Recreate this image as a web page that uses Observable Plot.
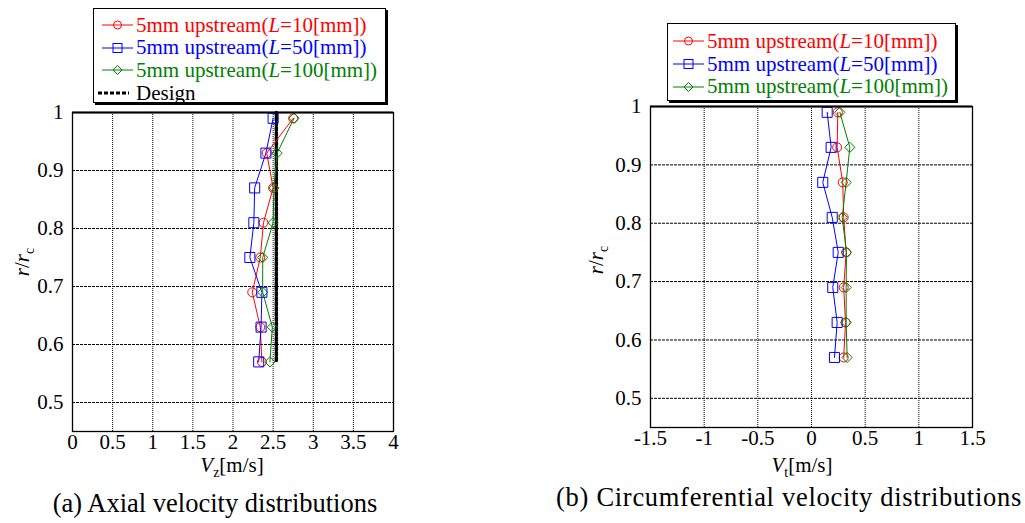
<!DOCTYPE html>
<html><head><meta charset="utf-8">
<script src="https://cdn.jsdelivr.net/npm/d3@7"></script>
<script src="https://cdn.jsdelivr.net/npm/@observablehq/plot@0.6"></script>
<style>
body{margin:0;background:#fff}
#fig{position:relative;width:1025px;height:523px;background:#fff;font-family:"Liberation Serif","DejaVu Serif","Noto Serif",serif;color:#000;overflow:hidden}
.chart{position:absolute;top:0}
.leg{position:absolute;background:#fff;border:1px solid #000;box-shadow:2px 2px 0 #000;box-sizing:border-box;font-size:21px}
.row{height:22.7px;line-height:22.7px;white-space:nowrap;display:flex;align-items:center}
.row svg{flex:none;margin-right:3px}
.cap{position:absolute;font-size:26.5px;white-space:nowrap;transform:translate(-50%,-50%)}
.xl{position:absolute;font-size:21px;white-space:nowrap;transform:translate(-50%,-50%)}
.yl{position:absolute;font-size:21px;white-space:nowrap;transform:translate(-50%,-50%) rotate(-90deg)}
sub{font-size:14px;vertical-align:-5px;line-height:0}
</style></head><body>
<div id="fig">
  <div id="chartA" class="chart" style="left:0"></div>
  <div id="chartB" class="chart" style="left:560px"></div>
  <div id="legA" class="leg" style="left:93px;top:8px;width:293px;height:95px;padding:4.5px 0 0 8px"></div>
  <div id="legB" class="leg" style="left:667px;top:23px;width:289px;height:78px;padding:6px 0 0 5px"></div>
  <div class="yl" style="left:22px;top:262px"><i>r</i>/<i>r</i><sub>c</sub></div>
  <div class="yl" style="left:596px;top:260px"><i>r</i>/<i>r</i><sub>c</sub></div>
  <div class="xl" style="left:232px;top:465px"><i>V</i><sub>z</sub>[m/s]</div>
  <div class="xl" style="left:802px;top:465px"><i>V</i><sub>t</sub>[m/s]</div>
  <div class="cap" style="left:215px;top:503px">(a) Axial velocity distributions</div>
  <div class="cap" style="left:789px;top:497px;letter-spacing:0.7px">(b) Circumferential velocity distributions</div>
</div>
<script>
// ---- data ----
const rPos = [0.99, 0.93, 0.87, 0.81, 0.75, 0.69, 0.63, 0.57];
const vzL10  = [2.75, 2.42, 2.50, 2.38, 2.34, 2.24, 2.34, 2.36];
const vzL50  = [2.50, 2.41, 2.27, 2.26, 2.21, 2.36, 2.35, 2.32];
const vzL100 = [2.76, 2.55, 2.51, 2.50, 2.37, 2.37, 2.49, 2.46];
const designR  = [1.0, 0.57];
const designVz = [2.54, 2.54];
const vtL10  = [0.245, 0.239, 0.291, 0.300, 0.323, 0.300, 0.317, 0.300];
const vtL50  = [0.146, 0.183, 0.105, 0.193, 0.249, 0.198, 0.239, 0.214];
const vtL100 = [0.264, 0.357, 0.323, 0.286, 0.326, 0.323, 0.323, 0.332];
const xTicksA = [0, 0.5, 1, 1.5, 2, 2.5, 3, 3.5, 4];
const xTicksB = [-1.5, -1, -0.5, 0, 0.5, 1, 1.5];
const yTicks = [0.5, 0.6, 0.7, 0.8, 0.9, 1];
const gridXA = [0.5, 1, 1.5, 2, 2.5, 3, 3.5];
const gridXB = [-1, -0.5, 0, 0.5, 1];
const gridY = [0.5, 0.6, 0.7, 0.8, 0.9];
const seriesKeys = ["L10", "L50", "L100"];
const seriesL = ["10", "50", "100"];
const seriesColors = ["#ff0000", "#0000ff", "#008000"];
const seriesSymbols = ["circle", "square2", "diamond2"];
const seriesR = [4.5, 6.4, 4.6];

const FONT = '"Liberation Serif","DejaVu Serif","Noto Serif",serif';

function rowsOf(arrs) {
  const out = [];
  arrs.forEach((arr, i) => arr.forEach((v, j) => out.push({series: seriesKeys[i], r: rPos[j], v})));
  return out;
}
const rowsA = rowsOf([vzL10, vzL50, vzL100]);
const rowsB = rowsOf([vtL10, vtL50, vtL100]);
const designRows = designR.map((r, i) => ({r, v: designVz[i]}));

function chart({rows, xDomain, xTicks, gridX, width, mL, mR, mT, mB, extra}) {
  const marks = [
    Plot.ruleX(gridX, {stroke: "#000", strokeWidth: 1, strokeDasharray: "1,1"}),
    Plot.ruleY(gridY, {stroke: "#000", strokeWidth: 1, strokeDasharray: "3,1"}),
    ...(extra || []),
    Plot.line(rows, {x: "v", y: "r", z: "series", stroke: "series", strokeWidth: 1})
  ];
  seriesKeys.forEach((k, i) => {
    marks.push(Plot.dot(rows.filter(d => d.series === k), {x: "v", y: "r", stroke: "series", symbol: "series", r: seriesR[i], fill: "none", strokeWidth: 1}));
  });
  marks.push(Plot.frame({stroke: "#000", strokeWidth: 1.3}));
  marks.push(Plot.ruleY([1], {stroke: "#000", strokeWidth: 2.2}));
  const svg = Plot.plot({
    width, height: 523,
    marginLeft: mL, marginRight: mR, marginTop: mT, marginBottom: mB,
    style: {fontFamily: FONT, fontSize: "21px", color: "#000", background: "transparent"},
    x: {domain: xDomain, ticks: xTicks, tickFormat: d => String(d), tickSize: 0, tickPadding: 3, label: null},
    y: {domain: [0.45, 1], ticks: yTicks, tickFormat: d => String(d), tickSize: 0, tickPadding: 9, label: null},
    color: {domain: seriesKeys, range: seriesColors},
    symbol: {domain: seriesKeys, range: seriesSymbols},
    marks
  });
  return svg;
}

document.getElementById("chartA").appendChild(chart({
  rows: rowsA, xDomain: [0, 4], xTicks: xTicksA, gridX: gridXA,
  width: 420, mL: 72, mR: 27, mT: 112, mB: 92,
  extra: [Plot.line(designRows, {x: "v", y: "r", stroke: "#000", strokeWidth: 3.5, strokeDasharray: "3,2"})]
}));
document.getElementById("chartB").appendChild(chart({
  rows: rowsB, xDomain: [-1.5, 1.5], xTicks: xTicksB, gridX: gridXB,
  width: 465, mL: 90, mR: 53, mT: 106, mB: 96
}));

// ---- legends ----
function swatch(i) {
  const c = seriesColors[i];
  let m;
  if (i === 0) m = `<circle cx="15.5" cy="7" r="4" fill="none" stroke="${c}"/>`;
  else if (i === 1) m = `<rect x="11" y="2.5" width="9" height="9" fill="none" stroke="${c}"/>`;
  else m = `<path d="M15.5 2.5L20 7L15.5 11.5L11 7Z" fill="none" stroke="${c}"/>`;
  return `<svg width="31" height="14"><line x1="0" y1="7" x2="31" y2="7" stroke="${c}"/>${m}</svg>`;
}
function legend(el, withDesign) {
  let html = "";
  seriesKeys.forEach((k, i) => {
    html += `<div class="row">${swatch(i)}<span style="color:${seriesColors[i]}">5mm upstream(<i>L</i>=${seriesL[i]}[mm])</span></div>`;
  });
  if (withDesign) {
    html += `<div class="row"><svg width="31" height="14" style="margin-left:-4px;margin-right:7px"><line x1="0" y1="7" x2="31" y2="7" stroke="#000" stroke-width="3" stroke-dasharray="4,2"/></svg><span>Design</span></div>`;
  }
  el.innerHTML = html;
}
legend(document.getElementById("legA"), true);
legend(document.getElementById("legB"), false);
</script>
</body></html>
